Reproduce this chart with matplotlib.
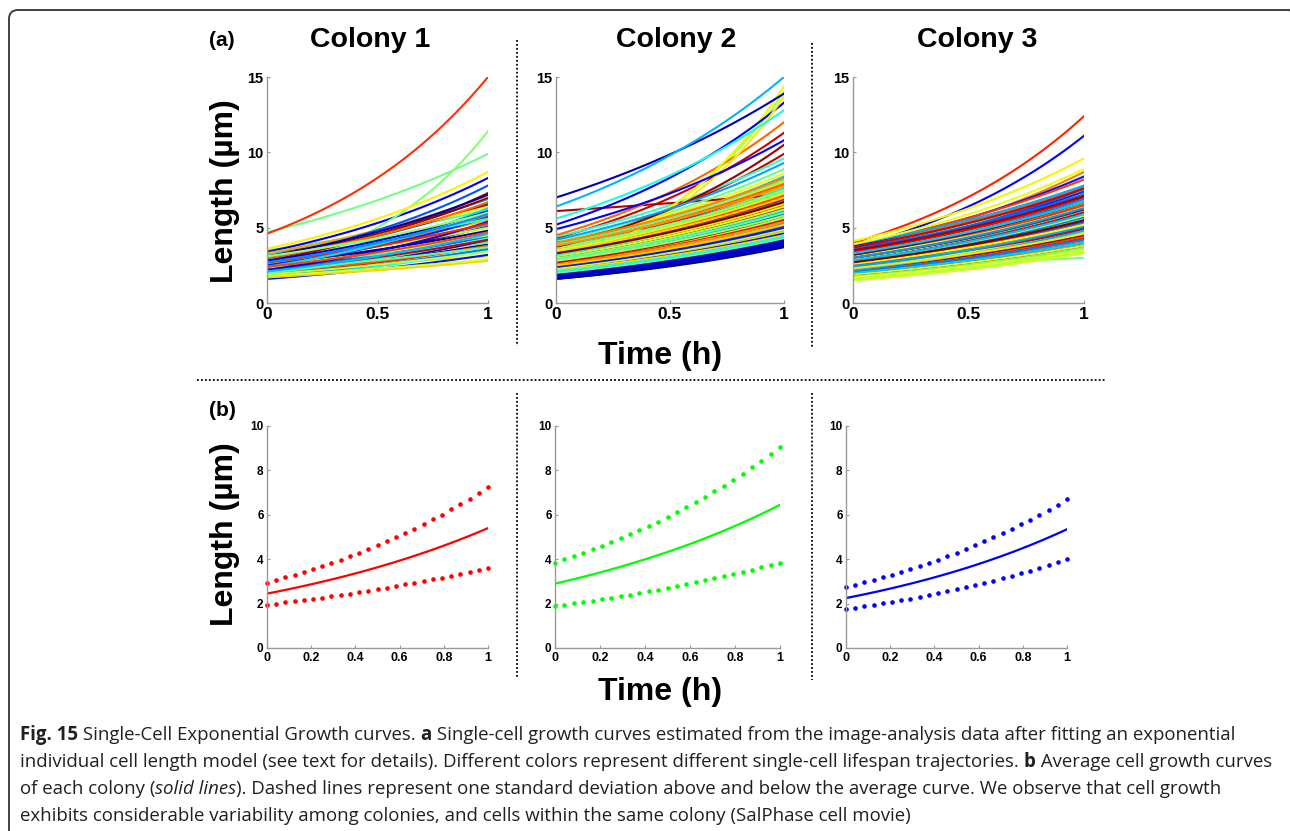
import numpy as np
import matplotlib
matplotlib.use("Agg")
import matplotlib.pyplot as plt
from matplotlib import font_manager as fm
from matplotlib.lines import Line2D
from matplotlib.patches import FancyBboxPatch
from matplotlib.transforms import IdentityTransform

# ---- data: start length (t=0) and end length (t=1) of each fitted curve
c1_start = [2.0, 2.6, 3.1, 1.9, 2.8, 3.4, 2.2, 1.6, 2.5, 3.0,
            3.0, 2.3, 1.8, 2.7, 3.3, 2.1, 2.9, 2.4, 1.7, 3.2,
            2.6, 2.0, 3.5, 2.2, 4.7, 2.2, 3.1, 2.8, 1.9, 2.5,
            1.8, 3.4, 3.6, 2.3, 1.7, 2.9, 3.3, 2.1, 2.6, 3.0,
            2.0, 2.4, 4.6, 2.7, 1.9, 2.2, 3.2, 2.8, 2.4, 3.0]
c1_end = [3.9, 4.8, 7.2, 4.2, 6.1, 8.3, 5.4, 3.2, 5.7, 6.6,
          7.8, 4.4, 3.6, 5.9, 6.9, 4.6, 5.2, 6.3, 3.5, 5.6,
          4.0, 4.3, 6.2, 3.7, 9.9, 11.4, 6.0, 5.0, 3.4, 4.5,
          2.9, 6.4, 8.7, 3.1, 2.8, 5.5, 7.1, 4.1, 5.8, 6.7,
          3.8, 4.7, 15.0, 5.3, 3.8, 4.2, 6.5, 7.3, 5.1, 7.0]

c2_start = [1.6, 1.7, 1.6, 1.8, 1.7, 1.9, 7.0, 1.8, 2.0, 1.7,
            1.9, 2.0, 1.8, 2.1, 5.2, 4.9, 2.2, 2.0, 2.4, 2.3,
            2.5, 2.1, 3.1, 2.6, 2.2, 3.4, 2.8, 2.4, 3.0, 2.7,
            2.3, 3.6, 2.9, 2.5, 4.2, 3.3, 6.4, 2.6, 3.8, 2.2,
            3.0, 2.4, 3.5, 2.8, 3.2, 5.6, 2.1, 2.7, 4.4, 3.1,
            2.3, 3.7, 2.5, 3.9, 2.9, 2.0, 3.4, 2.6, 4.1, 3.2,
            2.4, 3.0, 2.2, 3.6, 2.8, 2.1, 2.9, 3.3, 2.5, 3.8,
            2.7, 3.1, 2.3, 3.5, 2.6, 4.0, 2.4, 2.8, 3.2, 2.7,
            3.9, 2.2, 3.4, 2.5, 3.7, 2.9, 2.1, 3.6, 3.0, 2.3,
            3.8, 2.6, 4.0, 3.3, 2.4, 4.5, 3.1, 2.8, 3.9, 2.2,
            3.5, 2.5, 3.7, 2.9, 3.2, 2.3, 3.8, 3.0, 2.6, 3.4,
            2.7, 4.3, 3.9, 6.1, 3.6, 2.4, 3.7, 3.1, 2.8, 3.3]
c2_end = [3.7, 3.8, 3.9, 4.0, 3.8, 4.1, 13.9, 4.0, 4.2, 3.9,
          4.3, 4.1, 4.4, 4.5, 13.3, 10.8, 4.6, 4.2, 5.0, 4.7,
          5.2, 4.6, 6.2, 5.4, 4.8, 7.0, 5.9, 5.1, 6.6, 5.8,
          4.9, 7.9, 6.1, 5.3, 9.3, 6.8, 15.0, 5.6, 8.4, 4.6,
          6.4, 5.0, 7.6, 5.9, 6.9, 12.8, 4.4, 5.5, 9.6, 6.3,
          4.8, 7.4, 5.4, 8.2, 6.0, 4.3, 7.1, 5.6, 8.9, 6.5,
          5.1, 6.2, 4.7, 7.5, 5.8, 4.4, 14.0, 6.7, 5.3, 8.0,
          5.7, 6.4, 4.9, 7.3, 5.5, 8.6, 5.0, 14.4, 6.6, 13.7,
          8.1, 4.5, 7.0, 5.2, 7.7, 6.0, 4.4, 7.2, 6.3, 4.8,
          7.8, 5.4, 8.3, 6.8, 5.0, 12.0, 6.5, 5.9, 7.9, 4.6,
          7.1, 5.2, 7.5, 6.1, 6.6, 4.9, 7.4, 6.3, 5.5, 6.9,
          5.8, 11.3, 9.9, 7.2, 7.3, 5.1, 10.5, 6.4, 5.9, 6.7]

c3_start = [1.9, 2.1, 2.3, 1.8, 2.6, 2.0, 2.8, 2.2, 3.0, 2.4,
            2.7, 2.1, 3.3, 3.7, 2.5, 2.9, 3.8, 2.2, 3.5, 2.6,
            3.1, 2.0, 2.8, 3.4, 2.3, 3.6, 2.7, 2.1, 3.2, 2.5,
            3.0, 2.4, 3.9, 2.2, 2.8, 3.3, 2.0, 2.6, 3.5, 2.9,
            2.3, 3.1, 2.7, 1.9, 3.4, 2.5, 3.0, 2.2, 3.6, 2.8,
            1.8, 2.4, 3.2, 2.6, 2.3, 1.7, 2.9, 3.3, 2.1, 2.5,
            1.6, 2.7, 2.0, 3.1, 2.4, 1.5, 2.8, 2.2, 1.7, 3.9,
            2.6, 4.1, 1.9, 2.3, 3.0, 1.6, 2.5, 3.4, 2.1, 2.8,
            3.7, 2.4, 3.2, 2.0, 3.5, 3.6, 2.7, 2.2, 3.8, 2.9,
            3.3, 2.5, 3.9, 2.3, 3.1, 4.0, 2.6, 2.1, 3.4, 2.8,
            2.4, 3.7, 2.0, 3.0, 2.6, 3.5, 2.2, 3.2, 1.9, 2.7]
c3_end = [3.5, 4.1, 4.6, 3.8, 5.6, 4.4, 6.1, 4.9, 6.6, 5.2,
          5.9, 4.3, 7.1, 11.1, 5.4, 6.4, 8.4, 4.7, 7.4, 5.5,
          6.8, 4.5, 6.0, 7.6, 5.0, 7.2, 5.7, 4.2, 6.9, 5.3,
          6.3, 5.1, 7.8, 4.8, 5.9, 6.7, 4.0, 5.4, 7.3, 6.2,
          4.9, 6.5, 5.8, 3.9, 7.0, 5.1, 6.1, 4.6, 7.5, 5.7,
          3.7, 4.8, 6.4, 5.5, 3.0, 3.6, 5.9, 6.8, 4.3, 5.0,
          3.4, 5.6, 4.0, 6.3, 4.7, 3.3, 5.8, 4.5, 3.5, 8.9,
          5.2, 9.6, 3.8, 4.6, 6.2, 3.5, 5.0, 7.3, 4.2, 5.6,
          7.4, 4.8, 6.6, 4.1, 7.2, 8.7, 5.4, 4.4, 7.7, 5.9,
          6.9, 5.1, 8.2, 4.6, 6.5, 12.4, 5.3, 4.3, 7.0, 6.0,
          4.9, 7.6, 4.0, 6.2, 5.2, 7.1, 4.5, 6.7, 3.8, 5.5]

# panel (b): mean curve and mean +/- one SD, start and end values
mean_start = [2.45, 2.9, 2.25]
mean_end = [5.4, 6.45, 5.35]
upper_start = [2.95, 3.85, 2.75]
upper_end = [7.25, 9.05, 6.7]
lower_start = [1.95, 1.9, 1.75]
lower_end = [3.6, 3.85, 4.0]

colony_names = ["Colony 1", "Colony 2", "Colony 3"]
b_colors = ["#ff0000", "#00ff00", "#0000ff"]

W, H = 1290, 831
fig = plt.figure(figsize=(W / 100, H / 100), dpi=100)
fig.patch.set_facecolor("white")

BOLD = "Liberation Sans"


def px_axes(left, top, right, bottom):
    return fig.add_axes([left / W, 1 - bottom / H, (right - left) / W, (bottom - top) / H])


def grow(s, e, t):
    return s * (e / s) ** t


def style_axes(ax, fx, fy):
    for side in ["top", "right"]:
        ax.spines[side].set_visible(False)
    for side in ["left", "bottom"]:
        ax.spines[side].set_color("#9a9a9a")
        ax.spines[side].set_linewidth(1.0)
    ax.tick_params(direction="in", length=2, color="#9a9a9a")
    ax.tick_params(axis="x", pad=3)
    ax.tick_params(axis="y", pad=2.5)
    for lab in ax.get_xticklabels():
        lab.set_fontfamily(BOLD)
        lab.set_fontweight("bold")
        lab.set_fontsize(fx)
    for lab in ax.get_yticklabels():
        lab.set_fontfamily(BOLD)
        lab.set_fontweight("bold")
        lab.set_fontsize(fy)


a_boxes = [(267, 77, 488, 303), (556, 77, 784, 303), (853, 77, 1084, 303)]
b_boxes = [(267, 426, 488, 648), (555, 426, 780, 648), (846, 426, 1067, 648)]
title_x = [370, 676, 977]
curves = [(c1_start, c1_end), (c2_start, c2_end), (c3_start, c3_end)]

t = np.linspace(0, 1, 80)
cmap = plt.get_cmap("jet")
for k in range(3):
    ax = px_axes(*a_boxes[k])
    s_list, e_list = curves[k]
    n = len(s_list)
    # colour follows the cell index, drawing order interleaved so no colour sits on top
    for j in range(n):
        i = (j * 37) % n
        ax.plot(t, grow(s_list[i], e_list[i], t), color=cmap(i / (n - 1)), lw=1.5)
    ax.set_xlim(0, 1)
    ax.set_ylim(0, 15)
    ax.set_xticks([0, 0.5, 1])
    ax.set_xticklabels(["0", "0.5", "1"])
    ax.set_yticks([0, 5, 10, 15])
    ax.set_yticklabels(["0", "5", "10", "15"])
    style_axes(ax, 12.5, 10.5)
    fig.text(title_x[k] / W, 1 - 40 / H, colony_names[k], ha="center", va="center",
             fontsize=20.5, fontweight="bold", family=BOLD)

td = np.linspace(0, 1, 25)
for k in range(3):
    ax = px_axes(*b_boxes[k])
    ax.plot(t, grow(mean_start[k], mean_end[k], t), color=b_colors[k], lw=1.6)
    ax.plot(td, grow(upper_start[k], upper_end[k], td), ls="none", marker="o", ms=2.3,
            color=b_colors[k], clip_on=False)
    ax.plot(td, grow(lower_start[k], lower_end[k], td), ls="none", marker="o", ms=2.3,
            color=b_colors[k], clip_on=False)
    ax.set_xlim(0, 1)
    ax.set_ylim(0, 10)
    ax.set_xticks([0, 0.2, 0.4, 0.6, 0.8, 1])
    ax.set_xticklabels(["0", "0.2", "0.4", "0.6", "0.8", "1"])
    ax.set_yticks([0, 2, 4, 6, 8, 10])
    ax.set_yticklabels(["0", "2", "4", "6", "8", "10"])
    style_axes(ax, 9, 8.5)

# panel labels and axis titles
fig.text(222 / W, 1 - 40 / H, "(a)", ha="center", va="center", fontsize=15,
         fontweight="bold", family=BOLD)
fig.text(222 / W, 1 - 410 / H, "(b)", ha="center", va="center", fontsize=15,
         fontweight="bold", family=BOLD)
for yc in [191, 534]:
    fig.text(225 / W, 1 - yc / H, "Length (µm)", ha="center", va="center", rotation=90,
             fontsize=23, fontweight="bold", family=BOLD)
for yc in [356, 692]:
    fig.text(660 / W, 1 - yc / H, "Time (h)", ha="center", va="center",
             fontsize=23, fontweight="bold", family=BOLD)

# dotted separators
dot = dict(color="black", lw=1.3, ls=(0, (1, 1.2)))
for (x0, y0, x1, y1) in [(517, 40, 517, 346), (812, 43, 812, 348),
                         (517, 393, 517, 678), (812, 393, 812, 680),
                         (197, 380, 1105, 380)]:
    fig.add_artist(Line2D([x0 / W, x1 / W], [1 - y0 / H, 1 - y1 / H],
                          transform=fig.transFigure, **dot))

# rounded frame around the figure
frame = FancyBboxPatch((9, -40), 1290, 821 + 40, boxstyle="round,pad=0,rounding_size=9",
                       transform=IdentityTransform(), fill=False, ec="#333333", lw=1.3)
fig.add_artist(frame)

# caption
cond = [f for f in fm.fontManager.ttflist if f.name == "Open Sans Condensed"]
cond_light = [f for f in cond if str(f.weight) in ("300", "light")]
if cond_light:
    cap_font, body_wt = "Open Sans Condensed", "light"
else:
    cap_font, body_wt = "Open Sans", "normal"
cap_color = "#231f20"

caption = [
    [("Fig. 15", "bold", "normal"), (" Single-Cell Exponential Growth curves. ", body_wt, "normal"),
     ("a", "bold", "normal"),
     (" Single-cell growth curves estimated from the image-analysis data after fitting an exponential",
      body_wt, "normal")],
    [("individual cell length model (see text for details). Different colors represent different "
      "single-cell lifespan trajectories. ", body_wt, "normal"), ("b", "bold", "normal"),
     (" Average cell growth curves", body_wt, "normal")],
    [("of each colony (", body_wt, "normal"), ("solid lines", body_wt, "italic"),
     ("). Dashed lines represent one standard deviation above and below the average curve. "
      "We observe that cell growth", body_wt, "normal")],
    [("exhibits considerable variability among colonies, and cells within the same colony "
      "(SalPhase cell movie)", body_wt, "normal")],
]
renderer = fig.canvas.get_renderer()


def draw_line(runs, y, size, keep=True):
    x = 20
    made = []
    for txt, wt, st in runs:
        tt = fig.text(x / W, 1 - y / H, txt, ha="left", va="center", fontsize=size,
                      fontweight=wt, fontstyle=st, family=cap_font, color=cap_color)
        x += tt.get_window_extent(renderer).width
        made.append(tt)
    if not keep:
        for tt in made:
            tt.remove()
    return x - 20


# fit the first caption line to the width it has in the picture
w0 = draw_line(caption[0], 735, 14, keep=False)
cap_size = 14 * 1218 / w0
for li, runs in enumerate(caption):
    draw_line(runs, 735 + li * 27, cap_size)

fig.savefig("out.png", dpi=100, facecolor="white")
